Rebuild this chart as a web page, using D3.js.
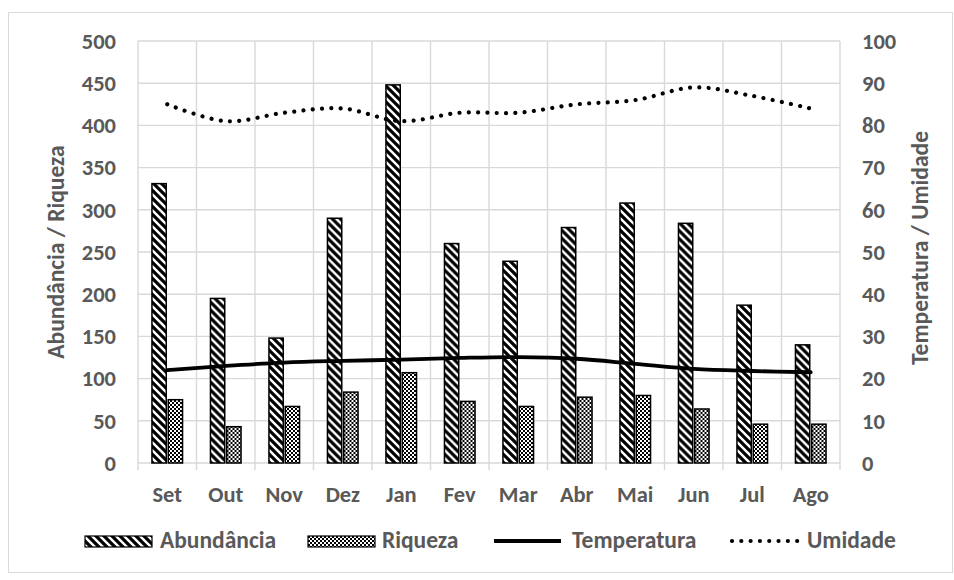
<!DOCTYPE html>
<html>
<head>
<meta charset="utf-8">
<script src="https://cdn.jsdelivr.net/npm/d3@7"></script>
<style>
  html, body { margin: 0; padding: 0; background: #fff; }
  svg text { font-family: Carlito, Lato, "Open Sans", sans-serif; font-weight: bold; fill: #595959; }
</style>
</head>
<body>
<svg id="chart" width="954" height="580"></svg>
<script>
// Monthly samples, September to August
const months = ["Set", "Out", "Nov", "Dez", "Jan", "Fev", "Mar", "Abr", "Mai", "Jun", "Jul", "Ago"];
const abundancia = [331, 195, 148, 290, 448, 260, 239, 279, 308, 284, 187, 140];
const riqueza    = [75, 43, 67, 84, 107, 73, 67, 78, 80, 64, 46, 46];
const temperatura = [22.0, 23.0, 23.8, 24.2, 24.5, 24.9, 25.1, 24.7, 23.5, 22.3, 21.8, 21.5];
const umidade     = [85, 81, 83, 84, 81, 83, 83, 85, 86, 89, 87, 84];
const leftTicks  = [0, 50, 100, 150, 200, 250, 300, 350, 400, 450, 500];
const rightTicks = [0, 10, 20, 30, 40, 50, 60, 70, 80, 90, 100];
const barSeries = ["Abundância", "Riqueza"];

const svg = d3.select("#chart");
const plot = { left: 138, right: 840, top: 41, bottom: 463 };
const gridColor = "#d9d9d9";
const tickFont = "22.5px";
const titleFont = "23.5px";
const legendFont = "23.5px";

// Fill patterns for the two bar series
const defs = svg.append("defs");
const stripes = defs.append("pattern")
  .attr("id", "pat-stripes").attr("patternUnits", "userSpaceOnUse")
  .attr("width", 8).attr("height", 8);
stripes.append("rect").attr("width", 8).attr("height", 8).attr("fill", "#fff");
stripes.append("path")
  .attr("d", "M-2,-2 L10,10 M-2,6 L2,10 M6,-2 L10,2")
  .attr("stroke", "#000").attr("stroke-width", 3.2);

const checker = defs.append("pattern")
  .attr("id", "pat-checker").attr("patternUnits", "userSpaceOnUse")
  .attr("width", 4).attr("height", 4);
checker.append("rect").attr("width", 4).attr("height", 4).attr("fill", "#fff");
checker.append("rect").attr("x", 0).attr("y", 0).attr("width", 2).attr("height", 2).attr("fill", "#000");
checker.append("rect").attr("x", 2).attr("y", 2).attr("width", 2).attr("height", 2).attr("fill", "#000");

const fills = { "Abundância": "url(#pat-stripes)", "Riqueza": "url(#pat-checker)" };

// Outer frame
svg.append("rect")
  .attr("x", 8.5).attr("y", 12.5).attr("width", 944).attr("height", 560)
  .attr("fill", "none").attr("stroke", gridColor).attr("stroke-width", 1);

// Scales
const x = d3.scaleBand().domain(months).range([plot.left, plot.right]).padding(0);
const xSub = d3.scaleBand().domain(barSeries).range([0, x.bandwidth()])
  .paddingInner(0.123).paddingOuter(0.856);
const yL = d3.scaleLinear().domain([0, 500]).range([plot.bottom, plot.top]);
const yR = d3.scaleLinear().domain([0, 100]).range([plot.bottom, plot.top]);

// Horizontal gridlines
svg.append("g").selectAll("line").data(leftTicks).join("line")
  .attr("x1", plot.left).attr("x2", plot.right)
  .attr("y1", d => yL(d)).attr("y2", d => yL(d))
  .attr("stroke", gridColor).attr("stroke-width", 1.4);

// Vertical gridlines at category boundaries, extending below as tick marks
const bounds = months.map(m => x(m)).concat([plot.right]);
svg.append("g").selectAll("line").data(bounds).join("line")
  .attr("x1", d => d).attr("x2", d => d)
  .attr("y1", plot.top).attr("y2", plot.bottom + 7)
  .attr("stroke", gridColor).attr("stroke-width", 1.4);

// Left axis labels
const leftAxis = d3.axisLeft(yL).tickValues(leftTicks).tickSize(0).tickPadding(22);
const gL = svg.append("g").attr("transform", `translate(${plot.left},0)`).call(leftAxis);
gL.select(".domain").remove();
gL.selectAll("text").style("font-size", tickFont).attr("fill", "#595959");

// Right axis labels
const rightAxis = d3.axisRight(yR).tickValues(rightTicks).tickSize(0).tickPadding(22);
const gR = svg.append("g").attr("transform", `translate(${plot.right},0)`).call(rightAxis);
gR.select(".domain").remove();
gR.selectAll("text").style("font-size", tickFont).attr("fill", "#595959");

// Bottom axis labels
const bottomAxis = d3.axisBottom(x).tickSize(0).tickPadding(23);
const gB = svg.append("g").attr("transform", `translate(0,${plot.bottom})`).call(bottomAxis);
gB.select(".domain").remove();
gB.selectAll("text").style("font-size", tickFont).attr("fill", "#595959");

// Axis titles (both read bottom to top)
svg.append("text")
  .attr("transform", `translate(64,${(plot.top + plot.bottom) / 2}) rotate(-90)`)
  .attr("text-anchor", "middle").style("font-size", titleFont)
  .text("Abundância / Riqueza");
svg.append("text")
  .attr("transform", `translate(928,${(plot.top + plot.bottom) / 2 - 4}) rotate(-90)`)
  .attr("text-anchor", "middle").style("font-size", titleFont)
  .text("Temperatura / Umidade");

// Bars
const barData = months.map((m, i) => ({ month: m, values: [
  { key: "Abundância", value: abundancia[i] },
  { key: "Riqueza", value: riqueza[i] }
]}));
svg.append("g").selectAll("g").data(barData).join("g")
  .attr("transform", d => `translate(${x(d.month)},0)`)
  .selectAll("rect").data(d => d.values).join("rect")
  .attr("x", d => xSub(d.key))
  .attr("width", xSub.bandwidth())
  .attr("y", d => yL(d.value))
  .attr("height", d => yL(0) - yL(d.value))
  .attr("fill", d => fills[d.key])
  .attr("stroke", "#000").attr("stroke-width", 1.5);

// Smoothed lines on the right axis
const cx = m => x(m) + x.bandwidth() / 2;
const line = d3.line().curve(d3.curveCatmullRom.alpha(0));

svg.append("path")
  .attr("d", line(months.map((m, i) => [cx(m), yR(temperatura[i])])))
  .attr("fill", "none").attr("stroke", "#000").attr("stroke-width", 3.8)
  .attr("stroke-linecap", "round");

svg.append("path")
  .attr("d", line(months.map((m, i) => [cx(m), yR(umidade[i])])))
  .attr("fill", "none").attr("stroke", "#000").attr("stroke-width", 4.2)
  .attr("stroke-linecap", "round").attr("stroke-dasharray", "0.01 9.3");

// Legend
const legY = 541;
const lg = svg.append("g");
lg.append("rect").attr("x", 85).attr("y", legY - 5).attr("width", 67).attr("height", 11)
  .attr("fill", fills["Abundância"]).attr("stroke", "#000").attr("stroke-width", 1.2);
lg.append("text").attr("x", 160).attr("y", legY + 7).style("font-size", legendFont).text("Abundância");

lg.append("rect").attr("x", 308).attr("y", legY - 5).attr("width", 67).attr("height", 11)
  .attr("fill", fills["Riqueza"]).attr("stroke", "#000").attr("stroke-width", 1.2);
lg.append("text").attr("x", 382).attr("y", legY + 7).style("font-size", legendFont).text("Riqueza");

lg.append("line").attr("x1", 494).attr("x2", 561).attr("y1", legY).attr("y2", legY)
  .attr("stroke", "#000").attr("stroke-width", 3.8);
lg.append("text").attr("x", 572).attr("y", legY + 7).style("font-size", legendFont).text("Temperatura");

lg.append("line").attr("x1", 732).attr("x2", 799).attr("y1", legY).attr("y2", legY)
  .attr("stroke", "#000").attr("stroke-width", 4.2)
  .attr("stroke-linecap", "round").attr("stroke-dasharray", "0.01 9.3");
lg.append("text").attr("x", 807).attr("y", legY + 7).style("font-size", legendFont).text("Umidade");
</script>
</body>
</html>
